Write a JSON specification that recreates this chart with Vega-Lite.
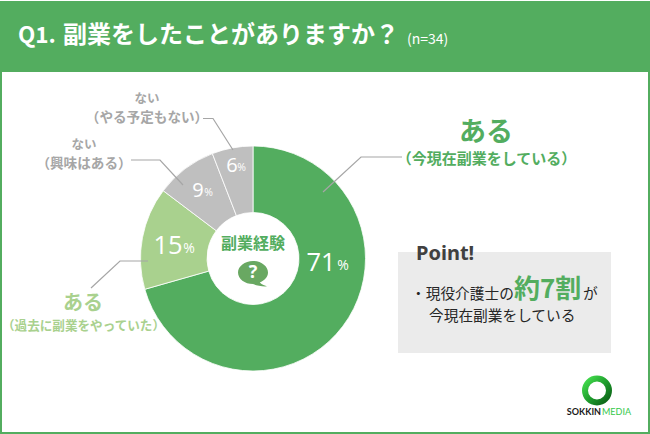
{
"$schema":"https://vega.github.io/schema/vega-lite/v6.json",
"width":650,"height":434,"autosize":{"type":"fit","contains":"padding"},"padding":0,"background":"#ffffff",
"config":{"view":{"stroke":null},"text":{"font":"Noto Sans CJK JP","align":"center","baseline":"middle"}},
"datasets":{
"frame":[{"x":0,"x2":650,"y":1,"y2":434}],
"inner":[{"x":2,"x2":648,"y":72,"y2":432}],
"box":[{"x":398,"x2":611,"y":252,"y2":353}],
"pie":[{"x":253,"y":258.5,"answer":"ある(今現在)","count":24,"idx":1},{"x":253,"y":258.5,"answer":"ある(過去)","count":5,"idx":2},{"x":253,"y":258.5,"answer":"ない(興味はある)","count":3,"idx":3},{"x":253,"y":258.5,"answer":"ない(やる予定もない)","count":2,"idx":4}],
"leaders":[
{"g":"a","i":1,"x":323,"y":192},{"g":"a","i":2,"x":361,"y":157},{"g":"a","i":3,"x":402,"y":157},
{"g":"b","i":1,"x":233,"y":150},{"g":"b","i":2,"x":213,"y":118.5},{"g":"b","i":3,"x":203,"y":118.5},
{"g":"c","i":1,"x":183,"y":185},{"g":"c","i":2,"x":160,"y":160},{"g":"c","i":3,"x":131,"y":160},
{"g":"d","i":1,"x":148,"y":261},{"g":"d","i":2,"x":120,"y":261},{"g":"d","i":3,"x":91,"y":288}]
},
"encoding":{
"x":{"field":"x","type":"quantitative","scale":{"domain":[0,650]},"axis":null},
"y":{"field":"y","type":"quantitative","scale":{"domain":[434,0]},"axis":null}
},
"layer":[
{"data":{"name":"frame"},"mark":{"type":"rect","color":"#53ad5f"},"encoding":{"x2":{"field":"x2"},"y2":{"field":"y2"}}},
{"data":{"name":"inner"},"mark":{"type":"rect","color":"#ffffff"},"encoding":{"x2":{"field":"x2"},"y2":{"field":"y2"}}},
{"data":{"name":"box"},"mark":{"type":"rect","color":"#ebebeb"},"encoding":{"x2":{"field":"x2"},"y2":{"field":"y2"}}},
{"data":{"name":"pie"},"mark":{"type":"arc","radius":112.5,"radius2":46,"stroke":"#ffffff","strokeWidth":0.8},
 "encoding":{"theta":{"field":"count","type":"quantitative","stack":true},"order":{"field":"idx"},
 "color":{"field":"answer","type":"nominal","legend":null,"sort":null,"scale":{"domain":["ある(今現在)","ある(過去)","ない(興味はある)","ない(やる予定もない)"],"range":["#53ad5f","#a9d18e","#bfbfbf","#bfbfbf"]}}}},
{"data":{"name":"leaders"},"mark":{"type":"line","color":"#a6a6a6","strokeWidth":1.2},"encoding":{"detail":{"field":"g"},"order":{"field":"i"}}},
{"data":{"values":[{"x":18,"y":35.5,"t":"Q1."}]},"mark":{"type":"text","align":"left","fontSize":22.5,"fontWeight":"bold","color":"#ffffff"},"encoding":{"text":{"field":"t"}}},
{"data":{"values":[{"x":63,"y":35.5,"t":"副業をしたことがありますか？"}]},"mark":{"type":"text","align":"left","fontSize":24,"fontWeight":"bold","color":"#ffffff"},"encoding":{"text":{"field":"t"}}},
{"data":{"values":[{"x":407,"y":40,"t":"(n=34)"}]},"mark":{"type":"text","align":"left","fontSize":14,"color":"#ffffff"},"encoding":{"text":{"field":"t"}}},
{"data":{"values":[{"x":486,"y":132.5,"t":"ある"}]},"mark":{"type":"text","fontSize":27,"fontWeight":"bold","color":"#53ad5f"},"encoding":{"text":{"field":"t"}}},
{"data":{"values":[{"x":486.5,"y":159,"t":"（今現在副業をしている）"}]},"mark":{"type":"text","fontSize":15,"fontWeight":"bold","color":"#53ad5f"},"encoding":{"text":{"field":"t"}}},
{"data":{"values":[{"x":83,"y":304,"t":"ある"}]},"mark":{"type":"text","fontSize":20,"fontWeight":"bold","color":"#a9d18e"},"encoding":{"text":{"field":"t"}}},
{"data":{"values":[{"x":83.5,"y":326,"t":"（過去に副業をやっていた）"}]},"mark":{"type":"text","fontSize":12.6,"fontWeight":"bold","color":"#a9d18e"},"encoding":{"text":{"field":"t"}}},
{"data":{"values":[{"x":147,"y":98.5,"t":"ない"},{"x":84,"y":145,"t":"ない"}]},"mark":{"type":"text","fontSize":12.5,"fontWeight":"bold","color":"#a6a6a6"},"encoding":{"text":{"field":"t"}}},
{"data":{"values":[{"x":147,"y":117.5,"t":"（やる予定もない）"},{"x":84,"y":164,"t":"（興味はある）"}]},"mark":{"type":"text","fontSize":13.6,"fontWeight":"bold","color":"#a6a6a6"},"encoding":{"text":{"field":"t"}}},
{"data":{"values":[{"x":321,"y":263,"t":"71"},{"x":168,"y":246,"t":"15"}]},"mark":{"type":"text","font":"Open Sans","fontSize":25.5,"color":"#ffffff"},"encoding":{"text":{"field":"t"}}},
{"data":{"values":[{"x":198,"y":190.5,"t":"9"},{"x":232,"y":166,"t":"6"}]},"mark":{"type":"text","font":"Open Sans","fontSize":20,"color":"#ffffff"},"encoding":{"text":{"field":"t"}}},
{"data":{"values":[{"x":343,"y":266,"t":"%"},{"x":189,"y":249,"t":"%"}]},"mark":{"type":"text","font":"Open Sans","fontSize":14,"color":"#ffffff"},"encoding":{"text":{"field":"t"}}},
{"data":{"values":[{"x":208.5,"y":193,"t":"%"},{"x":241.5,"y":168,"t":"%"}]},"mark":{"type":"text","font":"Open Sans","fontSize":10.5,"color":"#ffffff"},"encoding":{"text":{"field":"t"}}},
{"data":{"values":[{"x":253,"y":244,"t":"副業経験"}]},"mark":{"type":"text","fontSize":16,"fontWeight":"bold","color":"#53ad5f"},"encoding":{"text":{"field":"t"}}},
{"data":{"values":[{"x":253,"y":272.5}]},"mark":{"type":"point","filled":true,"opacity":1,"size":900,"color":"#69a862","shape":"M-1,0 C-1,-0.42 -0.55,-0.77 0,-0.77 C0.55,-0.77 1,-0.42 1,0 C1,0.3 0.75,0.55 0.45,0.66 C0.6,0.8 0.8,0.88 0.95,0.92 C0.6,0.95 0.2,0.85 0,0.77 C-0.55,0.77 -1,0.42 -1,0Z"}},
{"data":{"values":[{"x":253,"y":272.5,"t":"?"}]},"mark":{"type":"text","font":"Open Sans","fontSize":18,"fontWeight":"bold","color":"#ffffff"},"encoding":{"text":{"field":"t"}}},
{"data":{"values":[{"x":416,"y":254,"t":"Point!"}]},"mark":{"type":"text","align":"left","font":"Noto Sans","fontSize":20,"fontWeight":"bold","color":"#404040"},"encoding":{"text":{"field":"t"}}},
{"data":{"values":[{"x":411,"y":295,"t":"・現役介護士の"},{"x":583,"y":295,"t":"が"},{"x":429,"y":317,"t":"今現在副業をしている"}]},"mark":{"type":"text","align":"left","fontSize":14.7,"color":"#262626"},"encoding":{"text":{"field":"t"}}},
{"data":{"values":[{"x":514,"y":290,"t":"約7割"}]},"mark":{"type":"text","align":"left","fontSize":26,"fontWeight":"bold","color":"#53ad5f"},"encoding":{"text":{"field":"t"}}},
{"data":{"values":[{"x":597,"y":390.5}]},"mark":{"type":"point","filled":false,"opacity":1,"size":576,"strokeWidth":6,"stroke":{"gradient":"linear","x1":0,"y1":0,"x2":1,"y2":1,"stops":[{"offset":0,"color":"#45e04f"},{"offset":0.5,"color":"#1f9e2d"},{"offset":1,"color":"#0b5f16"}]}}},
{"data":{"values":[{"x":601,"y":412,"t":"SOKKIN"}]},"mark":{"type":"text","align":"right","font":"Lato","fontSize":9,"fontWeight":"bold","color":"#1a1a1a"},"encoding":{"text":{"field":"t"}}},
{"data":{"values":[{"x":602,"y":412,"t":"MEDIA"}]},"mark":{"type":"text","align":"left","font":"Lato","fontSize":9,"color":"#35c84a"},"encoding":{"text":{"field":"t"}}}
]
}
